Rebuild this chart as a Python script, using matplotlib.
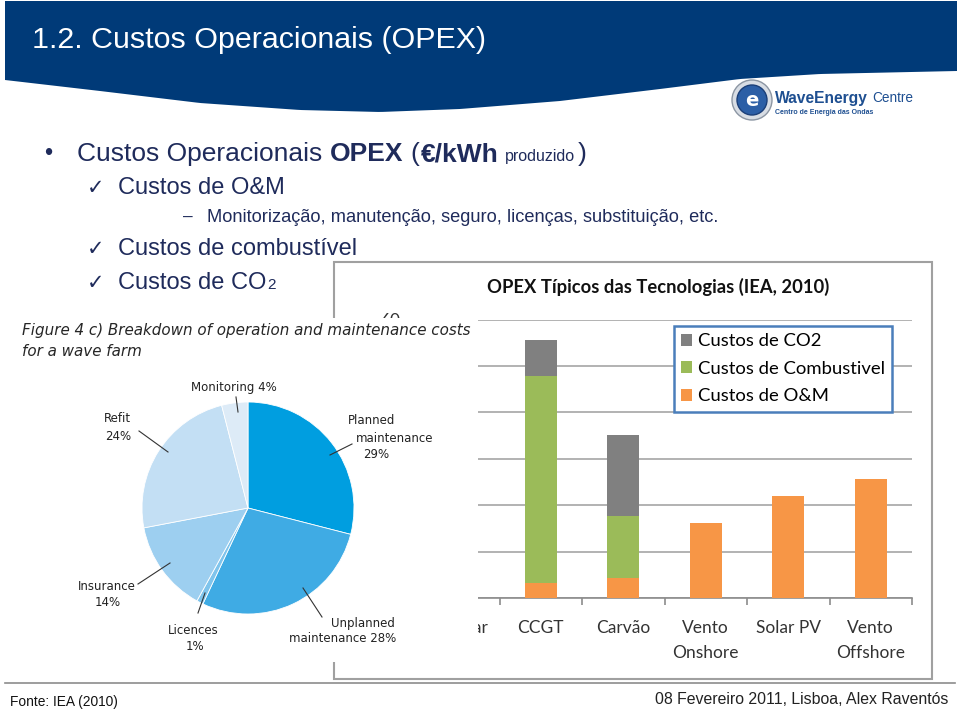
import numpy as np
import matplotlib.pyplot as plt
from matplotlib.patches import Polygon, Rectangle, Circle

W, H = 960, 711

# gráfico de barras: OPEX típicos das tecnologias (IEA, 2010)
tecnologias = ['Nuclear', 'CCGT', 'Carvão', 'Vento\nOnshore', 'Solar PV', 'Vento\nOffshore']
custos_om = [np.nan, 3.2, 4.3, 16.2, 22.0, 25.6]
custos_combustivel = [np.nan, 44.6, 13.4, 0, 0, 0]
custos_co2 = [np.nan, 7.8, 17.4, 0, 0, 0]
y_ticks = [0, 10, 20, 30, 40, 50, 60]

# gráfico circular: custos de O&M de um parque de ondas
pie_nomes = ['Planned maintenance', 'Unplanned maintenance', 'Licences',
             'Insurance', 'Refit', 'Monitoring']
pie_valores = [29, 28, 1, 14, 24, 4]
pie_cores = ['#009EE0', '#3FABE4', '#7FC4EC', '#9DCFF0', '#C3DFF4', '#DDEBF7']

AZUL = '#1F2B5B'


def fx(x):
    return x / W


def fy(y):
    return 1 - y / H


fig = plt.figure(figsize=(9.6, 7.11), dpi=100)
r = fig.canvas.get_renderer()


def fit(t, width):
    w = t.get_window_extent(r).width
    t.set_fontsize(t.get_fontsize() * width / w)
    return t


# faixa azul do cabeçalho
kx = [5, 100, 200, 300, 380, 460, 560, 660, 740, 820, 957]
ky = [80, 91, 103, 110, 112, 109, 101, 89, 79, 74, 71]
xs = np.linspace(5, 957, 200)
ys = np.interp(xs, kx, ky)
pts = [(fx(5), fy(1))] + [(fx(a), fy(b)) for a, b in zip(xs, ys)] + [(fx(957), fy(1))]
fig.add_artist(Polygon(pts, closed=True, transform=fig.transFigure,
                       facecolor='#003A78', edgecolor='none'))
t = fig.text(fx(32), fy(40), '1.2. Custos Operacionais (OPEX)', color='white',
             fontsize=22, family='Liberation Sans', va='center')
fit(t, 452)

# logótipo
lax = fig.add_axes([fx(730), fy(122), 44 / W, 44 / H])
lax.set_xlim(0, 44)
lax.set_ylim(0, 44)
lax.axis('off')
lax.add_patch(Circle((22, 22), 20, facecolor='#D8DDE4', edgecolor='#8C96A3', lw=1))
lax.add_patch(Circle((22, 22), 15, facecolor='#2C5FA6', edgecolor='#1B3F78', lw=1))
lax.text(22, 21, 'e', color='white', fontsize=14, weight='bold', ha='center', va='center')
t = fig.text(fx(775), fy(98), 'WaveEnergy', color='#1E4F91', fontsize=12,
             weight='bold', va='center', family='Liberation Sans')
fit(t, 93)
t = fig.text(fx(872), fy(98), 'Centre', color='#1E4F91', fontsize=11,
             va='center', family='Liberation Sans')
fit(t, 41)
t = fig.text(fx(775), fy(112), 'Centro de Energia das Ondas', color='#1E4F91',
             fontsize=6, weight='bold', va='center', family='Liberation Sans')
fit(t, 100)

# texto do diapositivo
FAM = ['Liberation Sans', 'DejaVu Sans']


def linha(x, y, partes):
    for s, kw, gap in partes:
        dy = kw.pop('dy', 0)
        t = fig.text(fx(x), fy(y + dy), s, va='baseline', color=AZUL, family=FAM, **kw)
        x += t.get_window_extent(r).width + gap
    return x


fig.text(fx(44), fy(160), '•', fontsize=17, color=AZUL, va='baseline', family=FAM)
linha(77, 161, [('Custos Operacionais', dict(fontsize=19), 8),
                ('OPEX', dict(fontsize=19, weight='bold'), 7),
                ('(', dict(fontsize=19), 1),
                ('€/kWh', dict(fontsize=19, weight='bold'), 7),
                ('produzido', dict(fontsize=11.5), 2),
                (')', dict(fontsize=19), 0)])
fim = {}
for y, s in [(194, 'Custos de O&M'), (255, 'Custos de combustível'), (289, 'Custos de CO')]:
    fig.text(fx(87), fy(y), '✓', fontsize=15, color=AZUL, va='baseline', family='DejaVu Sans')
    fim[y] = linha(118, y, [(s, dict(fontsize=17), 0)])
linha(fim[289] + 1, 289, [('2', dict(fontsize=11, dy=0), 0)])
fig.text(fx(183), fy(222), '–', fontsize=12.5, color=AZUL, va='baseline', family=FAM)
t = fig.text(fx(207), fy(222), 'Monitorização, manutenção, seguro, licenças, substituição, etc.',
             fontsize=12.5, color=AZUL, va='baseline', family=FAM)
fit(t, 515)

# caixa do gráfico de barras
fig.add_artist(Rectangle((fx(334), fy(679)), (932 - 334) / W, (679 - 262) / H,
                         transform=fig.transFigure, facecolor='white',
                         edgecolor='#A0A0A0', lw=1.5, zorder=-1))
BFAM = ['Lato', 'DejaVu Sans']
t = fig.text(fx(658), fy(287), 'OPEX Típicos das Tecnologias (IEA, 2010)', fontsize=13,
             weight='bold', ha='center', va='center', family=BFAM, color='#111111')
fit(t, 340)

ax = fig.add_axes([fx(417), fy(598), (912 - 417) / W, (598 - 319.6) / H])
ax.set_facecolor('none')
x = np.arange(len(tecnologias))
om = np.array(custos_om)
comb = np.array(custos_combustivel)
co2 = np.array(custos_co2)
ax.bar(x, om, 0.39, color='#F79646', label='Custos de O&M', zorder=3)
ax.bar(x, comb, 0.39, bottom=om, color='#9BBB59', label='Custos de Combustivel', zorder=3)
ax.bar(x, co2, 0.39, bottom=om + comb, color='#808080', label='Custos de CO2', zorder=3)
ax.set_xlim(-0.5, len(tecnologias) - 0.5)
ax.set_ylim(0, 60)
ax.set_yticks(y_ticks)
ax.yaxis.grid(True, color='#A6A6A6', lw=1.2)
ax.set_axisbelow(True)
for s in ['left', 'top', 'right']:
    ax.spines[s].set_visible(False)
ax.spines['bottom'].set_color('#8C8C8C')
ax.spines['bottom'].set_linewidth(1.2)
ax.set_xticks(x, tecnologias)
ax.set_xticks(np.arange(-0.5, len(tecnologias)), minor=True)
ax.tick_params(axis='x', which='major', length=0, pad=16, labelsize=12.5, labelcolor='#333333')
ax.tick_params(axis='x', which='minor', length=5, color='#8C8C8C', width=1.2)
ax.tick_params(axis='y', length=0, pad=12, labelsize=12.5, labelcolor='#333333')
for lab in ax.get_xticklabels() + ax.get_yticklabels():
    lab.set_family(BFAM)
    lab.set_linespacing(1.65)
# só o rótulo do topo espreita por cima da imagem do gráfico circular
for lab, v in zip(ax.get_yticklabels(), y_ticks):
    lab.set_visible(v == y_ticks[-1])
h, l = ax.get_legend_handles_labels()
leg = ax.legend(h[::-1], l[::-1], loc='upper left', bbox_to_anchor=(fx(674), fy(326)),
                bbox_transform=fig.transFigure, fancybox=False, framealpha=1,
                edgecolor='#4A7EBB', borderaxespad=0, borderpad=0.4,
                handlelength=0.6, handleheight=0.6, handletextpad=0.3,
                labelspacing=0.62, prop=dict(family=BFAM, size=13.3))
leg.get_frame().set_linewidth(1.8)

# imagem do gráfico circular, sobreposta ao gráfico de barras
pax = fig.add_axes([0, fy(662), fx(478), (662 - 318) / H], zorder=5)
pax.pie(pie_valores, colors=pie_cores, startangle=90, counterclock=False,
        center=(248, H - 508), radius=106, frame=True,
        wedgeprops=dict(edgecolor='white', linewidth=0.6))
pax.set_xlim(0, 478)
pax.set_ylim(H - 662, H - 318)
pax.set_facecolor('white')
pax.set_xticks([])
pax.set_yticks([])
for s in pax.spines.values():
    s.set_visible(False)

t = pax.text(22, H - 331, 'Figure 4 c) Breakdown of operation and maintenance costs',
             style='italic', fontsize=11, color='#262626', va='center', family='DejaVu Sans')
fit(t, 450)
pax.text(22, H - 352, 'for a wave farm', style='italic', fontsize=t.get_fontsize(),
         color='#262626', va='center', family='DejaVu Sans')

rotulos = [('Monitoring 4%', 234, 388), ('Refit', 117, 419), ('24%', 118, 436),
           ('Planned', 372, 421), ('maintenance', 395, 438), ('29%', 376, 454),
           ('Insurance', 107, 587), ('14%', 108, 603), ('Licences', 193, 630),
           ('1%', 195, 647), ('Unplanned', 363, 623), ('maintenance 28%', 343, 639)]
for s, a, b in rotulos:
    pax.text(a, H - b, s, fontsize=8.5, ha='center', va='center', color='#222222',
             family='DejaVu Sans')
guias = [((236, 397), (238, 412)), ((139, 431), (168, 452)), ((352, 444), (330, 455)),
         ((138, 584), (170, 563)), ((198, 613), (205, 593)), ((322, 617), (303, 588))]
for (a1, b1), (a2, b2) in guias:
    pax.plot([a1, a2], [H - b1, H - b2], color='#333333', lw=0.8)

# rodapé
fig.add_artist(plt.Line2D([fx(5), fx(955)], [fy(683), fy(683)], transform=fig.transFigure,
                          color='#8C8C8C', lw=1.2))
t = fig.text(fx(10), fy(702), 'Fonte: IEA (2010)', fontsize=9, va='center',
             family='Liberation Sans', color='#111111')
fit(t, 108)
t = fig.text(fx(948), fy(699), '08 Fevereiro 2011, Lisboa, Alex Raventós', fontsize=11,
             ha='right', va='center', family='Liberation Sans', color='#222222')
fit(t, 293)

fig.savefig('out.png', dpi=100)
